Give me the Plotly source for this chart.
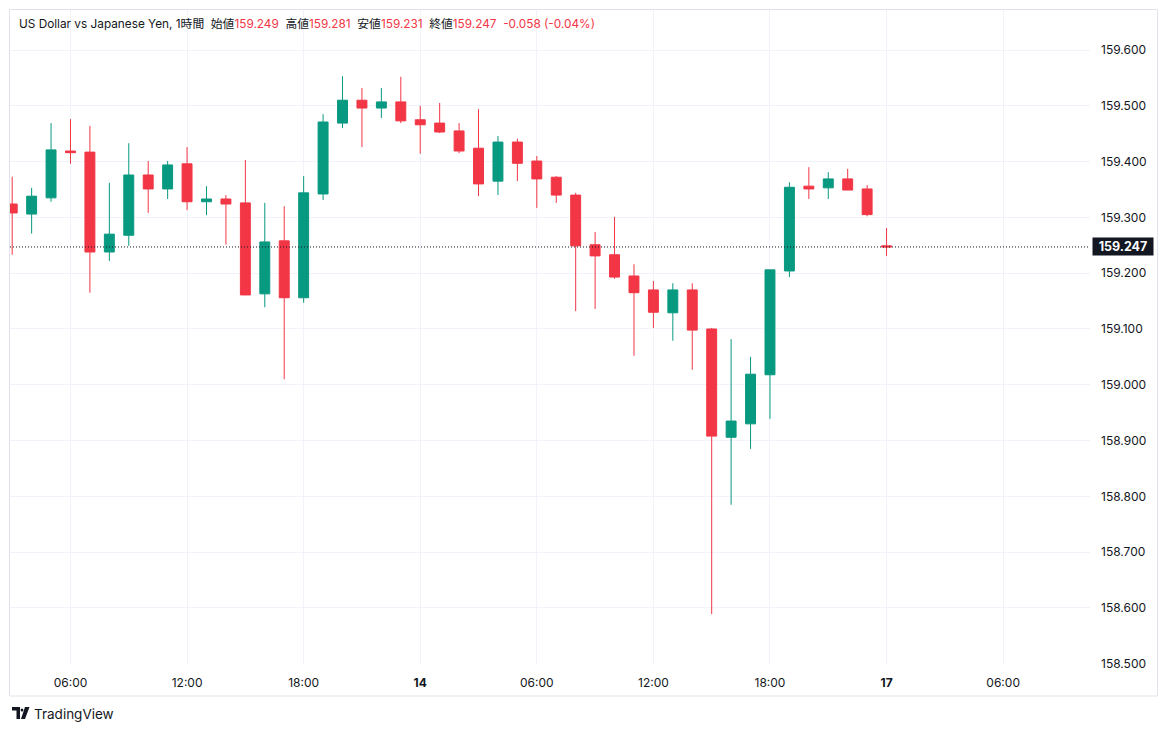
import plotly.graph_objects as go

# hourly USD/JPY bars, bar index 0 = 03:00 on the 13th
opens = [159.324, 159.306, 159.335, 159.419, 159.417, 159.238, 159.268, 159.376, 159.351, 159.396,
         159.328, 159.333, 159.326, 159.163, 159.258, 159.156, 159.342, 159.469, 159.510, 159.496,
         159.507, 159.475, 159.469, 159.455, 159.424, 159.365, 159.435, 159.401, 159.372, 159.340,
         159.251, 159.233, 159.195, 159.170, 159.129, 159.170, 159.100, 158.906, 158.930, 159.018,
         159.204, 159.356, 159.353, 159.369, 159.351, 159.249]
highs = [159.373, 159.353, 159.469, 159.476, 159.464, 159.362, 159.433, 159.401, 159.401, 159.426,
         159.356, 159.340, 159.403, 159.326, 159.320, 159.374, 159.485, 159.553, 159.532, 159.532,
         159.552, 159.500, 159.505, 159.469, 159.494, 159.446, 159.441, 159.410, 159.374, 159.344,
         159.274, 159.301, 159.216, 159.186, 159.182, 159.182, 159.102, 159.082, 159.050, 159.206,
         159.363, 159.390, 159.381, 159.387, 159.358, 159.281]
lows = [159.233, 159.271, 159.328, 159.396, 159.165, 159.222, 159.249, 159.308, 159.333, 159.313,
        159.304, 159.251, 159.161, 159.139, 159.010, 159.147, 159.331, 159.460, 159.426, 159.478,
        159.469, 159.414, 159.451, 159.415, 159.338, 159.340, 159.365, 159.317, 159.326, 159.132,
        159.136, 159.190, 159.052, 159.102, 159.079, 159.027, 158.589, 158.785, 158.885, 158.939,
        159.193, 159.333, 159.333, 159.349, 159.302, 159.231]
closes = [159.308, 159.338, 159.421, 159.416, 159.238, 159.270, 159.376, 159.351, 159.394, 159.328,
          159.333, 159.324, 159.161, 159.256, 159.156, 159.344, 159.471, 159.510, 159.496, 159.507,
          159.473, 159.466, 159.453, 159.419, 159.360, 159.435, 159.397, 159.369, 159.340, 159.249,
          159.231, 159.193, 159.165, 159.130, 159.170, 159.098, 158.908, 158.935, 159.019, 159.206,
          159.354, 159.351, 159.369, 159.349, 159.305, 159.247]

tick_idx = [3, 9, 15, 21, 27, 33, 39, 45, 51]
tick_text = ["06:00", "12:00", "18:00", "<b>14</b>", "06:00", "12:00", "18:00", "<b>17</b>", "06:00"]
price_ticks = [158.5, 158.6, 158.7, 158.8, 158.9, 159.0, 159.1, 159.2, 159.3, 159.4, 159.5, 159.6]

GREEN = "#089981"
RED = "#F23645"
TXT = "#131722"
GRID = "#f0f3fa"
FONT = "Inter, Noto Sans CJK JP, sans-serif"

# pane is 1080x654 px, starting at (10, 10)
def px(x):
    return (x - 10) / 1080.0

def py(y):
    return (664 - y) / 654.0

x = list(range(len(closes)))

fig = go.Figure()
fig.add_trace(go.Candlestick(
    x=x, open=opens, high=highs, low=lows, close=closes,
    increasing=dict(line=dict(color=GREEN, width=1), fillcolor=GREEN),
    decreasing=dict(line=dict(color=RED, width=1), fillcolor=RED),
    whiskerwidth=0, hoverinfo="skip"
))

last = closes[-1]
chg = closes[-1] - closes[-2]
pct = chg / closes[-2] * 100

def red(v):
    return "<span style='color:%s'>%s</span>" % (RED, v)

title = ("US Dollar vs Japanese Yen, 1時間  始値" + red("%.3f" % opens[-1]) +
         "  高値" + red("%.3f" % highs[-1]) +
         "  安値" + red("%.3f" % lows[-1]) +
         "  終値" + red("%.3f" % closes[-1]) +
         "  " + red("%.3f (%.2f%%)" % (chg, pct)))

fig.add_annotation(xref="paper", yref="paper", x=px(17), y=py(24), xanchor="left", yanchor="middle",
                   text=title, showarrow=False, font=dict(family=FONT, size=11.8, color=TXT))

# last price line and label
fig.add_shape(type="line", xref="paper", yref="y", x0=0, x1=1, y0=last, y1=last,
              line=dict(color="#131722", width=1, dash="1px,2px"))
fig.add_annotation(xref="paper", yref="y", x=px(1092), y=last, xanchor="left", yanchor="middle",
                   text="<b>%.3f</b>" % last, showarrow=False, bgcolor="#131722", borderpad=0,
                   width=60, height=17, align="center",
                   font=dict(family=FONT, size=12.5, color="white"))

# outer frame
fig.add_shape(type="rect", xref="paper", yref="paper", x0=px(9.5), x1=px(1157.5), y0=py(696), y1=py(9.5),
              line=dict(color="#e0e3eb", width=1), layer="below")

# TradingView mark
fig.add_shape(type="path", xref="paper", yref="paper",
              path="M %f %f L %f %f L %f %f L %f %f L %f %f L %f %f Z" % (
                  px(12), py(707), px(20), py(707), px(20), py(719), px(16.5), py(719),
                  px(16.5), py(710.5), px(12), py(710.5)),
              fillcolor=TXT, line=dict(width=0))
fig.add_shape(type="circle", xref="paper", yref="paper", x0=px(20.6), x1=px(23.4), y0=py(711.5), y1=py(708.5),
              fillcolor=TXT, line=dict(width=0))
fig.add_shape(type="path", xref="paper", yref="paper",
              path="M %f %f L %f %f L %f %f L %f %f Z" % (
                  px(25), py(707), px(29.5), py(707), px(25), py(719), px(21), py(719)),
              fillcolor=TXT, line=dict(width=0))
fig.add_annotation(xref="paper", yref="paper", x=px(32), y=py(713.5), xanchor="left", yanchor="middle",
                   text="TradingView", showarrow=False, font=dict(family=FONT, size=13.5, color=TXT))

fig.update_layout(
    width=1167, height=731,
    margin=dict(l=10, r=77, t=10, b=67),
    paper_bgcolor="white", plot_bgcolor="white",
    showlegend=False, boxgap=0.27,
    font=dict(family=FONT, size=12, color=TXT),
    xaxis=dict(range=[-0.113, 55.47], tickvals=tick_idx, ticktext=tick_text,
               showgrid=True, gridcolor=GRID, gridwidth=1, zeroline=False,
               rangeslider=dict(visible=False), ticks="", ticklabelstandoff=10,
               tickfont=dict(family=FONT, size=12, color=TXT), showline=False),
    yaxis=dict(range=[158.4996, 159.6717], side="right", tickvals=price_ticks, tickformat=".3f",
               showgrid=True, gridcolor=GRID, gridwidth=1, zeroline=False, ticks="",
               ticklabelstandoff=10, tickfont=dict(family=FONT, size=12, color=TXT), showline=False),
)

fig.write_html("out.html", config={"displayModeBar": False},
               post_script="document.body.style.margin='0px';")
